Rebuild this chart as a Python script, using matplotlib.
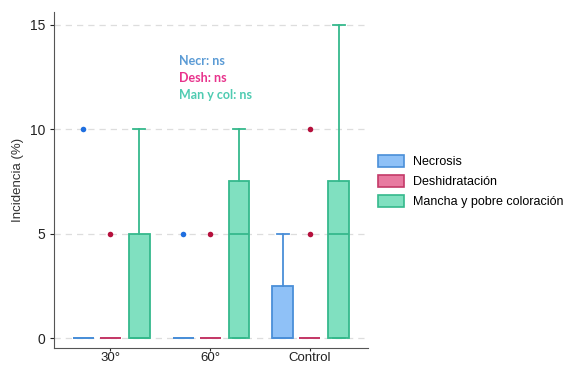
import numpy as np
import matplotlib.pyplot as plt
from matplotlib.patches import Patch

plt.rcParams['font.family'] = ['Liberation Sans', 'DejaVu Sans']

grupos = ['30°', '60°', 'Control']
series = ['Necrosis', 'Deshidratación', 'Mancha y pobre coloración']

# box stats per series, one entry per group: q1, median, q3, upper whisker, outliers
necr_q1 = [0, 0, 0]; necr_med = [0, 0, 0]; necr_q3 = [0, 0, 2.5]; necr_hi = [0, 0, 5]
necr_out = [[10], [5], []]
desh_q1 = [0, 0, 0]; desh_med = [0, 0, 0]; desh_q3 = [0, 0, 0]; desh_hi = [0, 0, 0]
desh_out = [[5], [5], [5, 10]]
man_q1 = [0, 0, 0]; man_med = [0, 5, 5]; man_q3 = [5, 7.5, 7.5]; man_hi = [10, 10, 15]
man_out = [[], [], []]

fill = ['#8fc1f7', '#e87aa0', '#80e0c0']
edge = ['#4a8fd8', '#c43a68', '#35b98c']
dot = ['#1f6fe0', '#b5103c', '#35b98c']

fig = plt.figure(figsize=(5.65, 3.67), dpi=100)
ax = fig.add_axes([0.096, 0.053, 0.555, 0.914])

offs = [-0.27, 0.0, 0.29]
data = [(necr_q1, necr_med, necr_q3, necr_hi, necr_out),
        (desh_q1, desh_med, desh_q3, desh_hi, desh_out),
        (man_q1, man_med, man_q3, man_hi, man_out)]
for k, (q1, med, q3, hi, out) in enumerate(data):
    stats = []
    for i in range(len(grupos)):
        stats.append({'med': med[i], 'q1': q1[i], 'q3': q3[i],
                      'whislo': q1[i], 'whishi': hi[i], 'fliers': out[i]})
    pos = np.arange(len(grupos)) + offs[k]
    ax.bxp(stats, positions=pos, widths=0.21, patch_artist=True,
           showcaps=True, capwidths=0.12,
           boxprops=dict(facecolor=fill[k], edgecolor=edge[k], linewidth=1.3),
           medianprops=dict(color=edge[k], linewidth=1.3),
           whiskerprops=dict(color=edge[k], linewidth=1.3),
           capprops=dict(color=edge[k], linewidth=1.3),
           flierprops=dict(marker='o', markersize=4, markerfacecolor=dot[k],
                           markeredgecolor='none'))

ax.set_xlim(-0.56, 2.58)
ax.set_ylim(-0.45, 15.6)
ax.set_xticks(range(len(grupos)))
ax.set_xticklabels(grupos)
ax.set_yticks([0, 5, 10, 15])
ax.tick_params(axis='both', labelsize=10, colors='#222222', length=3)
ax.tick_params(axis='x', labelsize=9.5, length=2, pad=1.0)
ax.set_ylabel('Incidencia (%)', fontsize=9.5, color='#333333')
ax.yaxis.grid(True, linestyle=(0, (5, 4)), color='#dddddd', linewidth=0.9)
ax.set_axisbelow(True)
for s in ['top', 'right']:
    ax.spines[s].set_visible(False)
for s in ['left', 'bottom']:
    ax.spines[s].set_color('#555555')

# significance notes
fam = ['Lato', 'DejaVu Sans']
ax.text(0.69, 13.05, 'Necr: ns', color='#5b9bd5', fontsize=9, fontweight='bold', family=fam)
ax.text(0.69, 12.25, 'Desh: ns', color='#e8338c', fontsize=9, fontweight='bold', family=fam)
ax.text(0.69, 11.45, 'Man y col: ns', color='#4fcbb1', fontsize=9, fontweight='bold', family=fam)

handles = [Patch(facecolor=fill[k], edgecolor=edge[k], linewidth=1.2) for k in range(3)]
fig.legend(handles, series, loc='center left', bbox_to_anchor=(0.655, 0.505),
           frameon=False, fontsize=9, handlelength=2.1, handleheight=1.1,
           labelspacing=0.55, handletextpad=0.75, borderaxespad=0.2)

fig.savefig('out.png', dpi=100)
